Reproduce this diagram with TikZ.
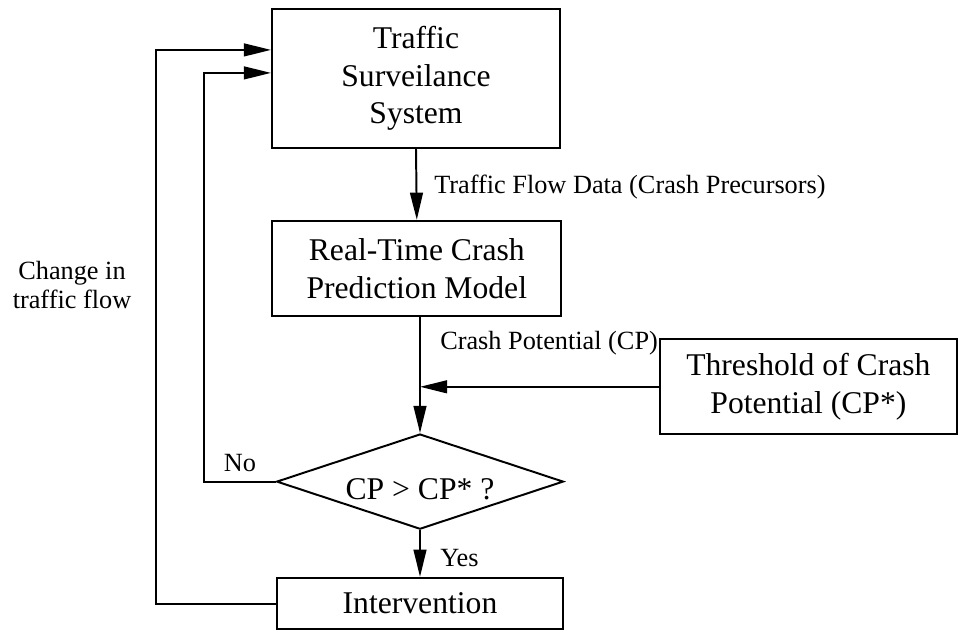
\documentclass[tikz,border=0pt]{standalone}
\usepackage{fontspec}
\setmainfont{Liberation Serif}
\usetikzlibrary{shapes.geometric,arrows.meta}
\begin{document}
\begin{tikzpicture}[
  box/.style={draw,line width=1.4pt,inner sep=0pt,align=center,font=\fontsize{22.5}{26.9}\selectfont},
  decision/.style={draw,diamond,shape aspect=3,line width=1.4pt,inner sep=0pt,font=\fontsize{22.5}{26.9}\selectfont},
  lbl/.style={inner sep=0pt,align=center,font=\fontsize{18.7}{21.3}\selectfont},
  flow/.style={line width=1.4pt,-{Triangle[length=0.68cm,width=0.32cm]}},
  link/.style={line width=1.4pt}]
\useasboundingbox (0,0) rectangle (23.95,-15.8);

\node[box,minimum width=7.2cm,minimum height=3.475cm] (surv) at (10.4,-1.96) {Traffic\\Surveilance\\System};
\node[box,minimum width=7.225cm,minimum height=2.38cm] (model) at (10.42,-6.71) {Real-Time Crash\\Prediction Model};
\node[box,minimum width=7.425cm,minimum height=2.375cm] (thr) at (20.21,-9.67) {Threshold of Crash\\Potential (CP*)};
\node[decision,minimum width=7.17cm,minimum height=2.38cm] (dec) at (10.5,-12.04) {\smash{\raisebox{-0.45cm}{CP > CP* ?}}};
\node[box,minimum width=7.17cm,minimum height=1.29cm] (interv) at (10.5,-15.09) {Intervention};

\coordinate (outer) at (3.9,0);
\coordinate (inner) at (5.1,0);

\draw[flow] (surv.south) -- (model.north);
\draw[flow] (dec.north |- model.south) -- (dec.north);
\draw[flow] (thr.west) -- (thr.west -| dec.north);
\draw[flow] (dec.south) -- (interv.north);
\draw[flow] (dec.west) -- (dec.west -| inner) |- ([yshift=-1.625cm]surv.north west);
\draw[flow] (interv.west) -- (interv.west -| outer) |- ([yshift=-1.05cm]surv.north west);

\node[lbl,anchor=west] (flowlbl) at (10.85,-4.675) {Traffic Flow Data (Crash Precursors)};
\node[lbl,anchor=west] (cplbl) at (11.0,-8.57) {Crash Potential (CP)};
\node[lbl] (nolbl) at (6.0,-11.57) {No};
\node[lbl,anchor=west] (yeslbl) at (11.0,-13.95) {Yes};
\node[lbl] (changelbl) at (1.8,-7.125) {Change in\\traffic flow};
\end{tikzpicture}
\end{document}
